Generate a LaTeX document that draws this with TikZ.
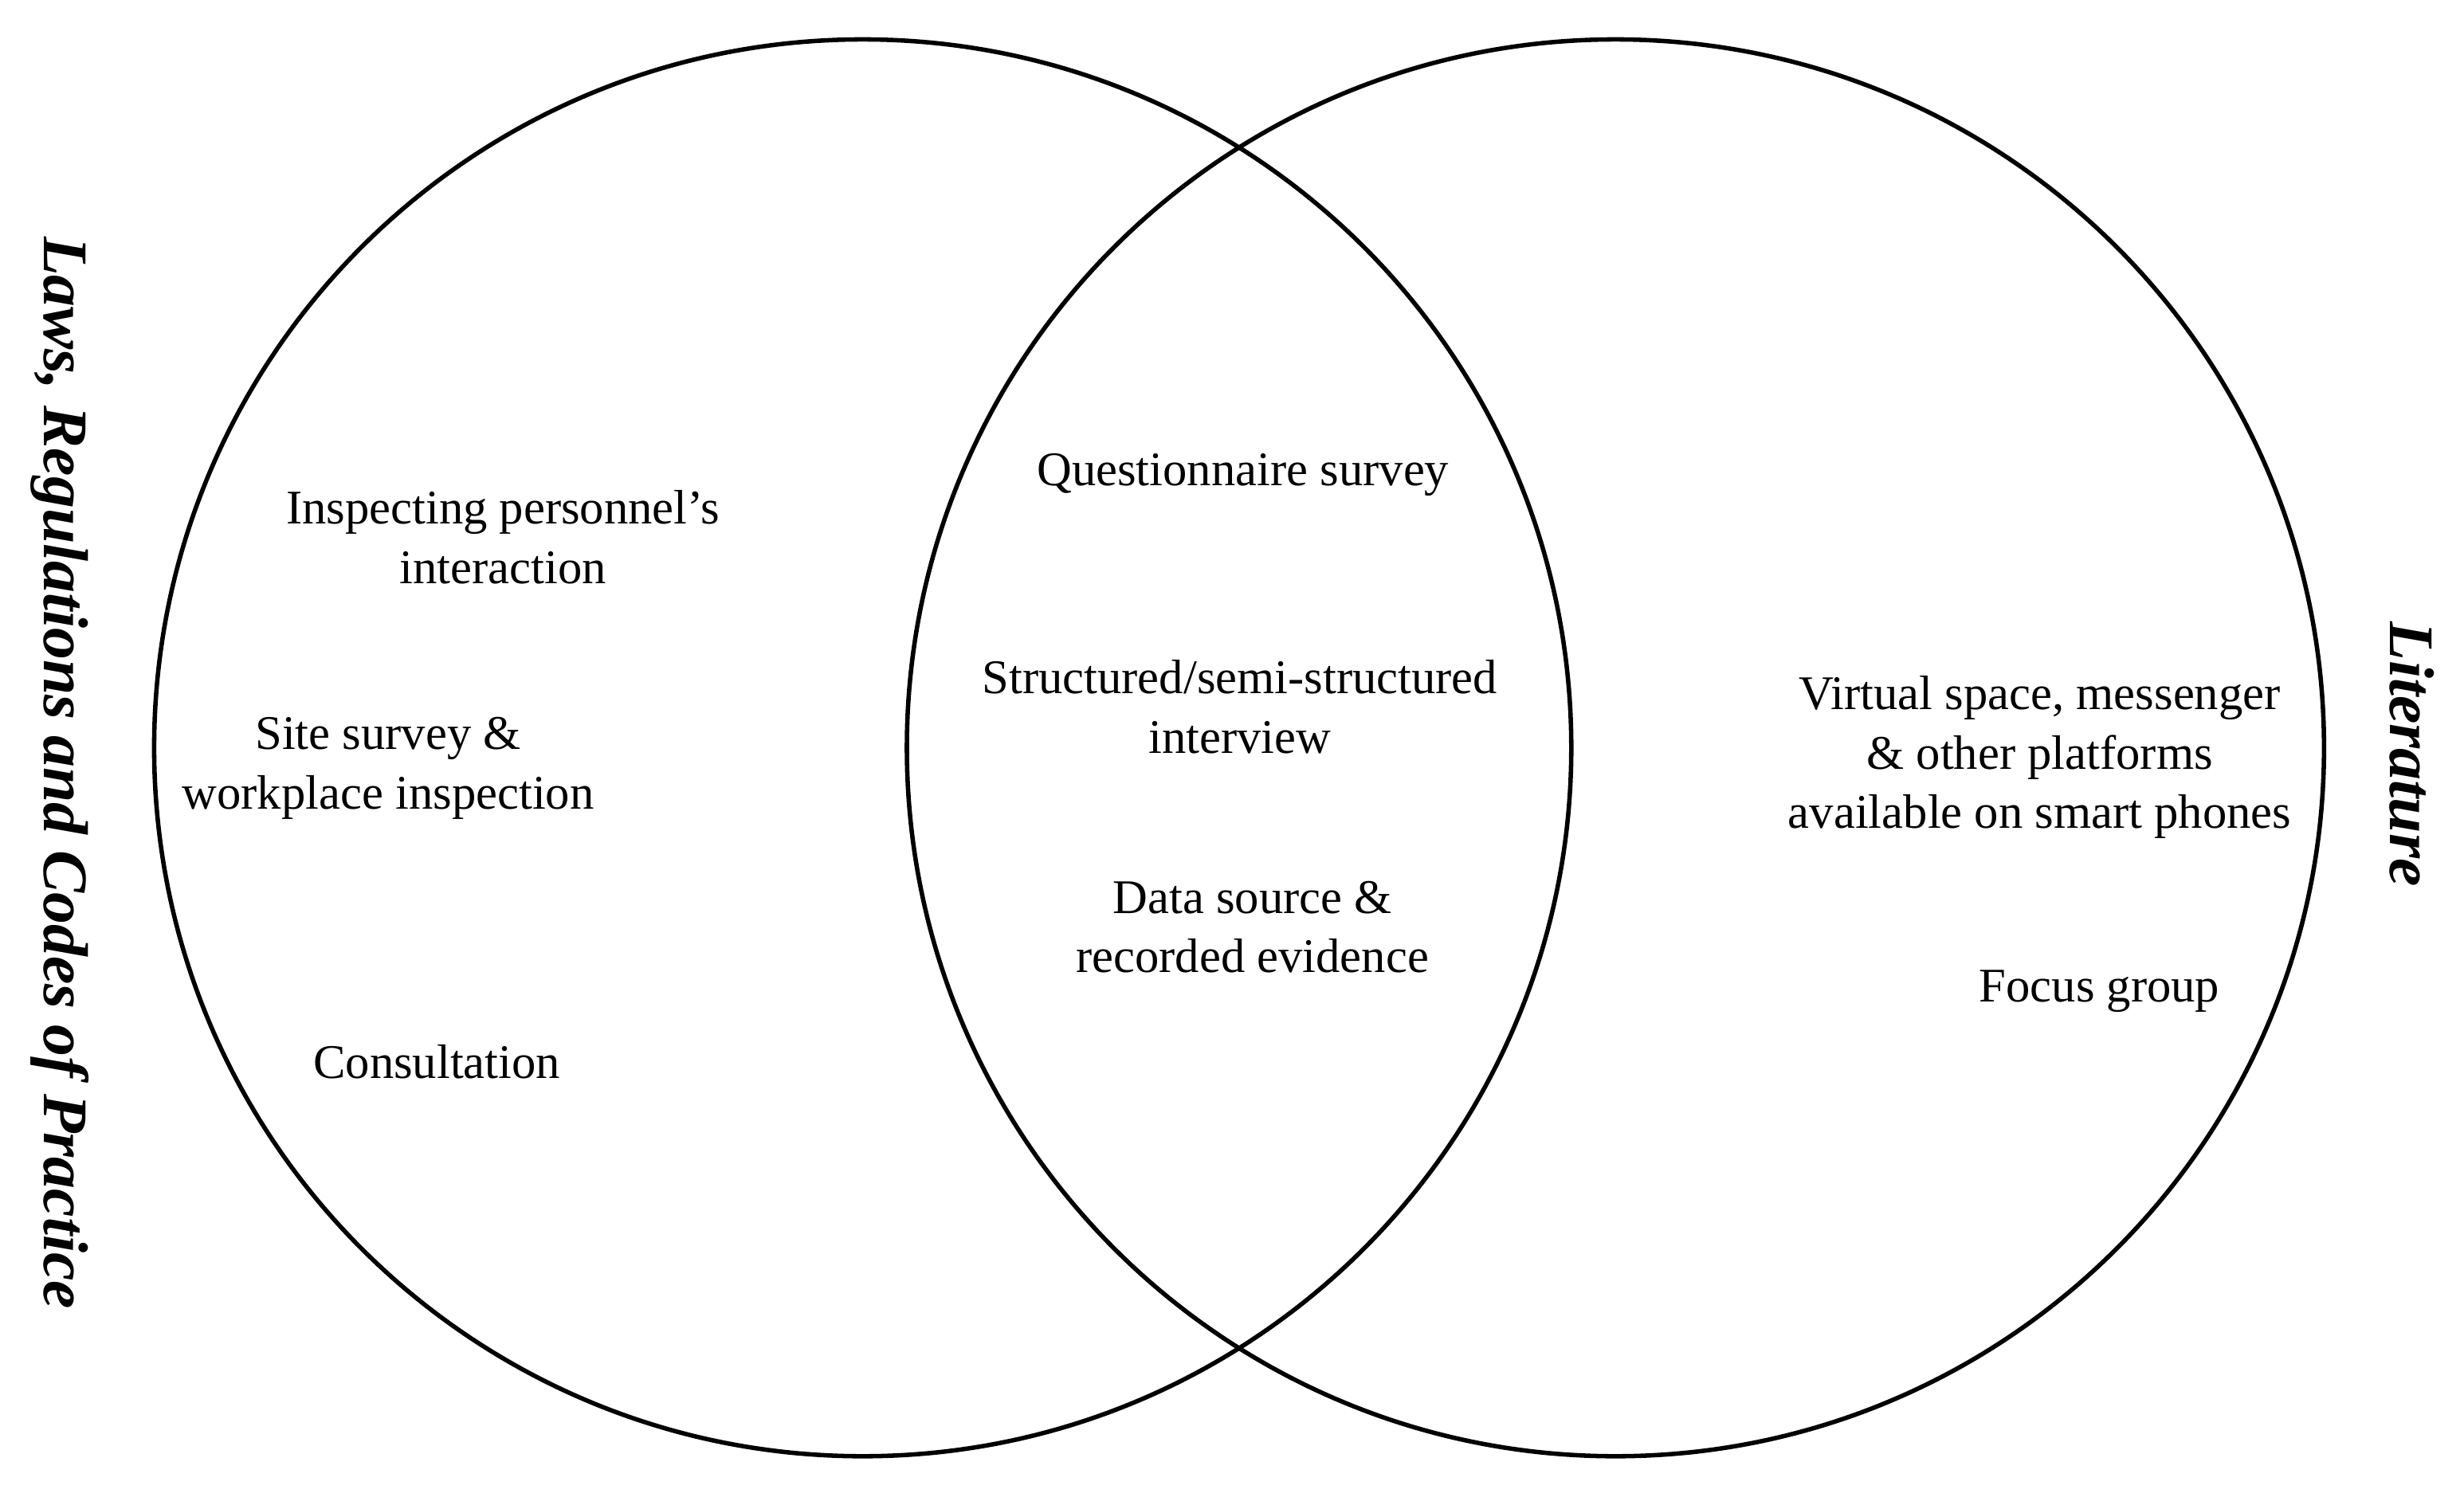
\documentclass[tikz,border=0pt]{standalone}
\usepackage{fontspec}
\setmainfont{Liberation Serif}
\begin{document}
\begin{tikzpicture}[x=0.02cm,y=-0.02cm,
  circ/.style={draw=black,line width=1.6pt},
  lbl/.style={align=center,font=\fontsize{17.5}{21.5}\selectfont,inner sep=0pt},
  side/.style={font=\fontsize{23}{27}\selectfont\bfseries\itshape,rotate=-90,inner sep=0pt}]
\useasboundingbox (0,0) rectangle (1568,955);
\node[circ,circle,minimum size=18.04cm] (L) at (549,476) {};
\node[circ,circle,minimum size=18.04cm] (R) at (1028,476) {};
\node[side] (tl) at (38,492) {Laws, Regulations and Codes of Practice};
\node[side] (tr) at (1535,480) {Literature};
\node[lbl] (a) at (320,342) {Inspecting personnel’s\\interaction};
\node[lbl] (b) at (247,489) {Site survey \&\\workplace inspection};
\node[lbl] (c) at (278,676) {Consultation};
\node[lbl] (d) at (791,302) {Questionnaire survey};
\node[lbl] (e) at (789,450) {Structured/semi-structured\\interview};
\node[lbl] (f) at (797,590) {Data source \&\\recorded evidence};
\node[lbl] (g) at (1298,482) {Virtual space, messenger\\\& other platforms\\available on smart phones};
\node[lbl] (h) at (1336,631) {Focus group};
\end{tikzpicture}
\end{document}
